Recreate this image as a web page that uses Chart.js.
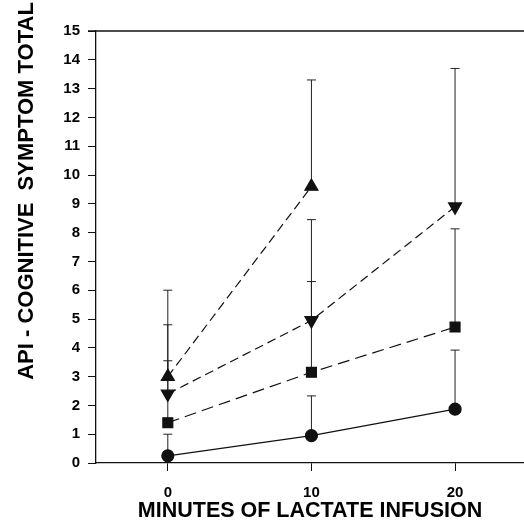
<!DOCTYPE html>
<html>
<head>
<meta charset="utf-8">
<script src="https://cdn.jsdelivr.net/npm/chart.js@4/dist/chart.umd.min.js"></script>
<style>
  html, body { margin: 0; padding: 0; background: #fff; overflow: hidden; }
  #wrap { width: 524px; height: 527px; }
</style>
</head>
<body>
<div id="wrap"><canvas id="myChart"></canvas></div>
<script>
const minutes = [0, 10, 20];
const yTicks = [0, 1, 2, 3, 4, 5, 6, 7, 8, 9, 10, 11, 12, 13, 14, 15];

// group means and upper error bar ends
const triUp = [3.0, 9.6, null];
const triUpErr = [6.0, 13.3, null];
const triDown = [2.4, 4.95, 8.9];
const triDownErr = [4.8, 8.45, 13.7];
const square = [1.4, 3.15, 4.72];
const squareErr = [3.55, 6.3, 8.13];
const circle = [0.25, 0.95, 1.87];
const circleErr = [1.0, 2.33, 3.92];

const ctx = document.getElementById("myChart");
const font = "Arial, 'Liberation Sans', sans-serif";

function pts(vals) {
  return minutes.map((m, i) => ({ x: m, y: vals[i] }));
}

// vertical error bars, upper side only, drawn under the markers
const errorBars = {
  id: "errorBars",
  beforeDatasetsDraw(chart) {
    const c = chart.ctx;
    const xs = chart.scales.x;
    const ys = chart.scales.y;
    c.save();
    c.strokeStyle = "#222";
    c.lineWidth = 1;
    chart.data.datasets.forEach((ds) => {
      ds.err.forEach((top, i) => {
        if (top == null || ds.data[i].y == null) return;
        const x = xs.getPixelForValue(ds.data[i].x);
        const y0 = ys.getPixelForValue(ds.data[i].y);
        const y1 = ys.getPixelForValue(top);
        c.beginPath();
        c.moveTo(x, y0);
        c.lineTo(x, y1);
        c.moveTo(x - 4.5, y1);
        c.lineTo(x + 4.5, y1);
        c.stroke();
      });
    });
    c.restore();
  },
};

// frame line on top + y title
const frame = {
  id: "frame",
  afterDraw(chart) {
    const c = chart.ctx;
    const a = chart.chartArea;
    c.save();
    c.strokeStyle = "#111";
    c.lineWidth = 1.3;
    c.beginPath();
    c.moveTo(a.left - 8, a.top);
    c.lineTo(a.right, a.top);
    c.stroke();
    c.translate(27, 191);
    c.rotate(-Math.PI / 2);
    c.fillStyle = "#000";
    c.font = "bold 22px " + font;
    c.textAlign = "center";
    c.textBaseline = "middle";
    c.fillText("API - COGNITIVE  SYMPTOM TOTAL", 0, 0);
    c.restore();
  },
};

new Chart(ctx, {
  type: "line",
  data: {
    datasets: [
      {
        data: pts(triUp), err: triUpErr,
        borderColor: "#111", backgroundColor: "#111", borderWidth: 1.2,
        borderDash: [9, 5], pointStyle: "triangle", pointRadius: 7.5,
      },
      {
        data: pts(triDown), err: triDownErr,
        borderColor: "#111", backgroundColor: "#111", borderWidth: 1.2,
        borderDash: [9, 5], pointStyle: "triangle", rotation: 180, pointRadius: 7.5,
      },
      {
        data: pts(square), err: squareErr,
        borderColor: "#111", backgroundColor: "#111", borderWidth: 1.2,
        borderDash: [12, 6], pointStyle: "rect", pointRadius: 7,
      },
      {
        data: pts(circle), err: circleErr,
        borderColor: "#111", backgroundColor: "#111", borderWidth: 1.2,
        pointStyle: "circle", pointRadius: 6,
      },
    ],
  },
  options: {
    responsive: true,
    maintainAspectRatio: false,
    animation: false,
    layout: { autoPadding: false, padding: { top: 31, right: 0, left: 0, bottom: 0 } },
    plugins: { legend: { display: false }, tooltip: { enabled: false } },
    scales: {
      x: {
        type: "linear",
        min: -5,
        max: 24.8,
        afterBuildTicks: (s) => { s.ticks = minutes.map((v) => ({ value: v })); },
        afterFit: (s) => { s.height = 64; s.paddingRight = 0; s.paddingLeft = 0; },
        grid: { drawOnChartArea: false, tickLength: 8, color: "#111", lineWidth: 1 },
        border: { color: "#111", width: 1.3 },
        ticks: { color: "#000", font: { family: font, size: 15, weight: "bold" }, padding: 13, maxRotation: 0 },
        title: {
          display: true,
          text: "MINUTES OF LACTATE INFUSION",
          color: "#000",
          font: { family: font, size: 21.5, weight: "bold" },
          padding: { top: 0, bottom: 3 },
        },
      },
      y: {
        min: 0,
        max: 15,
        afterBuildTicks: (s) => { s.ticks = yTicks.map((v) => ({ value: v })); },
        afterFit: (s) => { s.width = 96; },
        grid: { drawOnChartArea: false, tickLength: 8, color: "#111", lineWidth: 1 },
        border: { color: "#111", width: 1.3 },
        ticks: { color: "#000", font: { family: font, size: 15, weight: "bold" }, padding: 8 },
      },
    },
  },
  plugins: [errorBars, frame],
});
</script>
</body>
</html>
